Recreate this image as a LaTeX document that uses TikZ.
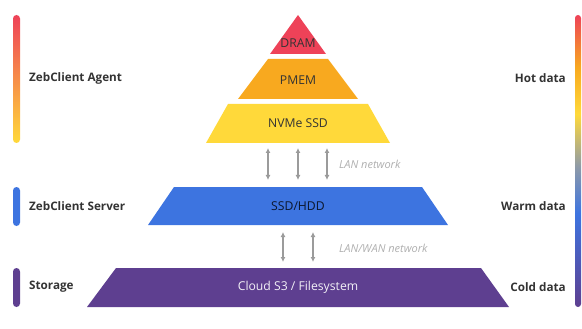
\documentclass[tikz,border=0pt]{standalone}
\usepackage{fontspec}
\setmainfont{Open Sans}
\usetikzlibrary{arrows.meta}
\definecolor{dramred}{HTML}{EE4258}
\definecolor{pmemorange}{HTML}{F8A91F}
\definecolor{nvmeyellow}{HTML}{FFD93A}
\definecolor{ssdblue}{HTML}{3D74E0}
\definecolor{cloudpurple}{HTML}{5E3F90}
\definecolor{midgray}{HTML}{8E9AA8}
\definecolor{netgray}{HTML}{9B9B9B}
\definecolor{labelgray}{HTML}{333333}
\pgfdeclareverticalshading{heatbar}{100bp}{color(0bp)=(cloudpurple); color(25bp)=(cloudpurple); color(41bp)=(ssdblue); color(49bp)=(midgray); color(58bp)=(nvmeyellow); color(66bp)=(pmemorange); color(75bp)=(dramred); color(100bp)=(dramred)}

\begin{document}
\begin{tikzpicture}[x=1pt,y=-1pt,>={Latex[length=5pt,width=5pt]},
  tier/.style={inner sep=0pt,font=\fontsize{12.2}{14}\selectfont,text=labelgray},
  side/.style={inner sep=0pt,font=\bfseries\fontsize{11.7}{14}\selectfont,text=labelgray},
  net/.style={<->,draw=netgray,line width=1.2pt},
  netlabel/.style={inner sep=0pt,anchor=west,font=\itshape\fontsize{11}{13}\selectfont,text=netgray!80}]
\useasboundingbox (0,0) rectangle (582,329);
% pyramid
\fill[dramred] (298,15) -- (326,54) -- (270,54) -- cycle;
\fill[pmemorange] (268,59) -- (328,59) -- (358,99) -- (238,99) -- cycle;
\fill[nvmeyellow] (228,104) -- (368,104) -- (390,143) -- (206,143) -- cycle;
\fill[ssdblue] (174,187) -- (422,187) -- (448,225) -- (148,225) -- cycle;
\fill[cloudpurple] (116,268) -- (481,268) -- (509,307) -- (87,307) -- cycle;
\coordinate (nvme-b) at (298,143);
\coordinate (ssd-t) at (298,187);
\coordinate (ssd-b) at (298,225);
\coordinate (cloud-t) at (298,268);
\node[tier] (dram) at (298,43) {DRAM};
\node[tier] (pmem) at (298,80) {PMEM};
\node[tier] (nvme) at (298,123) {NVMe SSD};
\node[tier,text=ssdblue!20!black] (ssd) at (298,206) {SSD/HDD};
\node[tier,text=cloudpurple!8!white] (cloud) at (298,287) {Cloud S3 / Filesystem};
% network links
\foreach \dx in {-30,0,29}
  \draw[net] ([xshift=\dx,yshift=-5]nvme-b) -- ([xshift=\dx,yshift=7]ssd-t);
\foreach \dx in {-15,15}
  \draw[net] ([xshift=\dx,yshift=-7]ssd-b) -- ([xshift=\dx,yshift=6]cloud-t);
\node[netlabel] (lan) at (339,164) {LAN network};
\node[netlabel] (wan) at (339,248) {LAN/WAN network};
% left side
\shade[top color=dramred,middle color=pmemorange,bottom color=nvmeyellow,rounded corners=3.5pt] (13,15) rectangle (20,143);
\fill[ssdblue,rounded corners=3.5pt] (13,187) rectangle (20,226);
\fill[cloudpurple,rounded corners=3.5pt] (13,268) rectangle (20,307);
\node[side,anchor=west] (agent) at (29,78) {ZebClient Agent};
\node[side,anchor=west] (server) at (29,206) {ZebClient Server};
\node[side,anchor=west] (storage) at (29,287) {Storage};
% right side
\shade[shading=heatbar,rounded corners=3pt] (575,15) rectangle (581,307);
\node[side,anchor=east] (hot) at (566,78) {Hot data};
\node[side,anchor=east] (warm) at (566,206) {Warm data};
\node[side,anchor=east] (cold) at (566,287) {Cold data};
\end{tikzpicture}
\end{document}
